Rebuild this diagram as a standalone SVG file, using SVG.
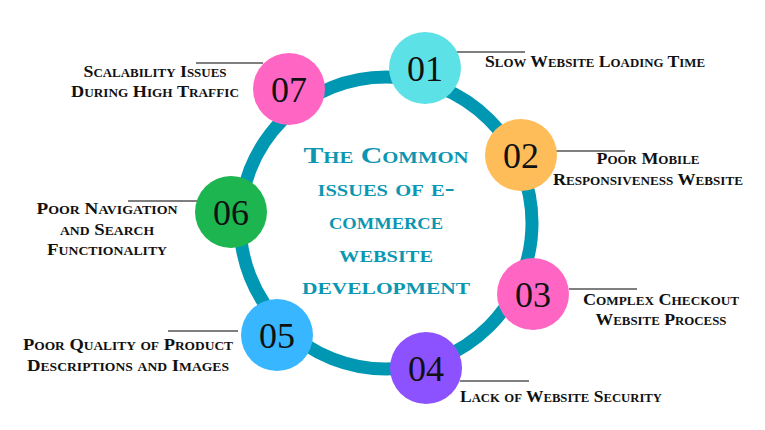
<svg xmlns="http://www.w3.org/2000/svg" width="765" height="430" viewBox="0 0 765 430">
<style>
.num{font-family:"Liberation Serif","Times New Roman",serif;font-size:36px;fill:#111;text-anchor:middle}
.lbl{font-family:"Liberation Serif","Times New Roman",serif;font-weight:bold;font-size:16.5px;font-variant:small-caps;fill:#111}
.ttl{font-family:"Liberation Serif","Times New Roman",serif;font-weight:bold;font-size:23px;font-variant:small-caps;fill:#0b97b1;text-anchor:middle}
.lead{stroke:#555;stroke-width:1.3;fill:none}
.mid{text-anchor:middle}
</style>
<rect width="765" height="430" fill="#fff"/>
<g id="ring">
<circle cx="386" cy="223" r="146" fill="none" stroke="#0097b2" stroke-width="13"/>
</g>
<g id="connectors">
<line class="lead" x1="455" y1="52" x2="525" y2="52"/>
<line class="lead" x1="556" y1="151" x2="625" y2="151"/>
<line class="lead" x1="569" y1="289" x2="637" y2="289"/>
<line class="lead" x1="460" y1="381" x2="529" y2="381"/>
<line class="lead" x1="168" y1="331" x2="238" y2="331"/>
<line class="lead" x1="128" y1="201" x2="197" y2="201"/>
<line class="lead" x1="196" y1="63" x2="263" y2="63"/>
</g>
<g id="title">
<text class="ttl" x="386" y="163" textLength="165" lengthAdjust="spacingAndGlyphs">The Common</text>
<text class="ttl" x="386" y="196" textLength="137" lengthAdjust="spacingAndGlyphs">issues of e-</text>
<text class="ttl" x="386" y="229" textLength="114" lengthAdjust="spacingAndGlyphs">commerce</text>
<text class="ttl" x="386" y="262" textLength="94" lengthAdjust="spacingAndGlyphs">website</text>
<text class="ttl" x="386" y="294" textLength="168" lengthAdjust="spacingAndGlyphs">development</text>
</g>
<g id="n01">
<circle cx="425" cy="68" r="36" fill="#5ce1e6"/>
<text class="num" x="425" y="81">01</text>
<text class="lbl" x="485" y="67" textLength="220" lengthAdjust="spacingAndGlyphs">Slow Website Loading Time</text>
</g>
<g id="n02">
<circle cx="521" cy="155" r="36" fill="#ffbd59"/>
<text class="num" x="521" y="168">02</text>
<text class="lbl mid" x="648" y="164" textLength="103" lengthAdjust="spacingAndGlyphs">Poor Mobile</text>
<text class="lbl mid" x="648" y="185" textLength="190" lengthAdjust="spacingAndGlyphs">Responsiveness Website</text>
</g>
<g id="n03">
<circle cx="533" cy="294" r="36" fill="#ff66c4"/>
<text class="num" x="533" y="307">03</text>
<text class="lbl mid" x="661" y="305" textLength="156" lengthAdjust="spacingAndGlyphs">Complex Checkout</text>
<text class="lbl mid" x="661" y="325" textLength="131" lengthAdjust="spacingAndGlyphs">Website Process</text>
</g>
<g id="n04">
<circle cx="426" cy="368" r="36" fill="#8c52ff"/>
<text class="num" x="426" y="381">04</text>
<text class="lbl" x="460" y="402" textLength="202" lengthAdjust="spacingAndGlyphs">Lack of Website Security</text>
</g>
<g id="n05">
<circle cx="277" cy="335" r="36" fill="#38b6ff"/>
<text class="num" x="277" y="348">05</text>
<text class="lbl mid" x="128" y="350" textLength="210" lengthAdjust="spacingAndGlyphs">Poor Quality of Product</text>
<text class="lbl mid" x="128" y="371" textLength="202" lengthAdjust="spacingAndGlyphs">Descriptions and Images</text>
</g>
<g id="n06">
<circle cx="231" cy="212" r="36" fill="#1db54f"/>
<text class="num" x="231" y="225">06</text>
<text class="lbl mid" x="107" y="214" textLength="141" lengthAdjust="spacingAndGlyphs">Poor Navigation</text>
<text class="lbl mid" x="107" y="235" textLength="94" lengthAdjust="spacingAndGlyphs">and Search</text>
<text class="lbl mid" x="107" y="255" textLength="120" lengthAdjust="spacingAndGlyphs">Functionality</text>
</g>
<g id="n07">
<circle cx="289" cy="89" r="36" fill="#ff66c4"/>
<text class="num" x="289" y="102">07</text>
<text class="lbl mid" x="155" y="77" textLength="143" lengthAdjust="spacingAndGlyphs">Scalability Issues</text>
<text class="lbl mid" x="155" y="97" textLength="168" lengthAdjust="spacingAndGlyphs">During High Traffic</text>
</g>
</svg>
